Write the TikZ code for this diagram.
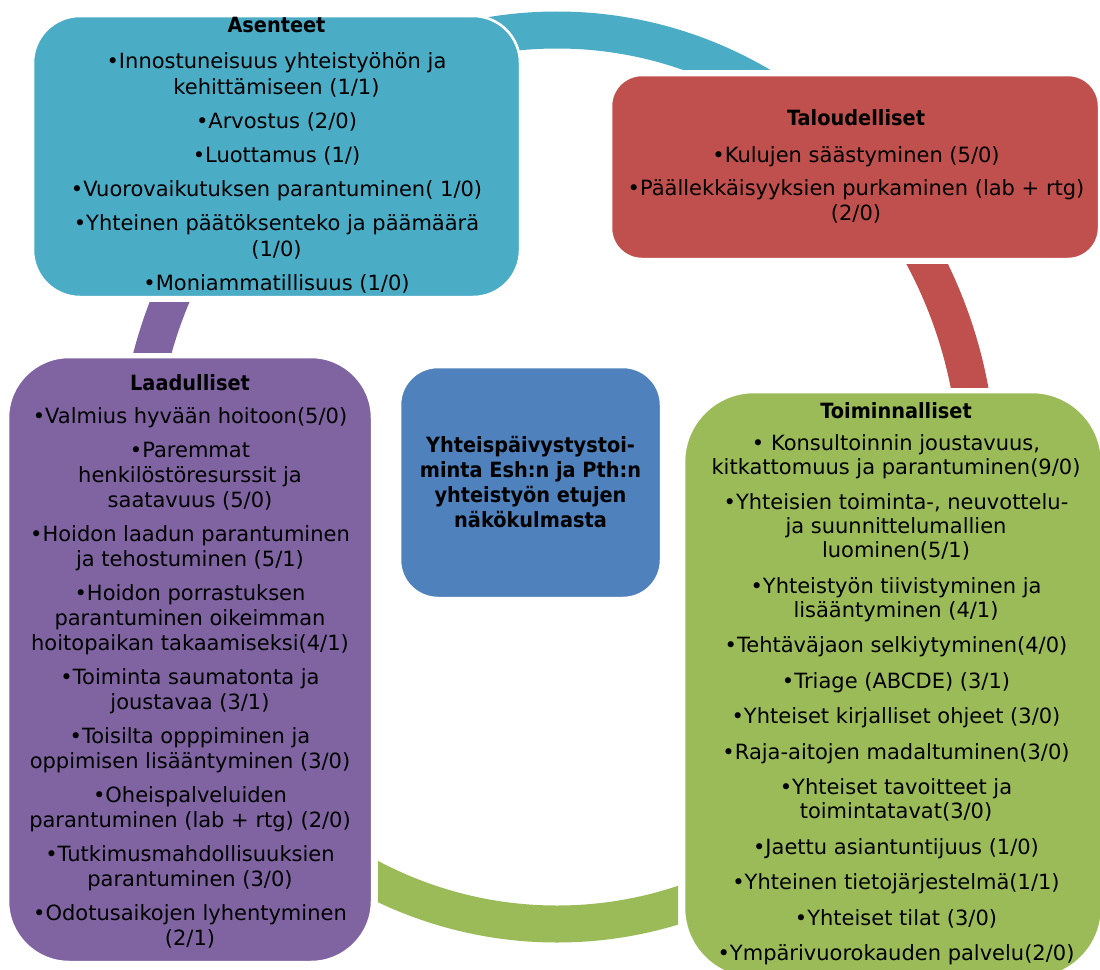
\documentclass[tikz,border=0pt]{standalone}
\usepackage{fontspec}
\setmainfont{DejaVu Sans}[BoldFeatures={FakeStretch=0.92}]
\definecolor{cteal}{HTML}{4BACC6}
\definecolor{cred}{HTML}{C0504D}
\definecolor{cgreen}{HTML}{9BBB59}
\definecolor{cpurple}{HTML}{8064A2}
\definecolor{cblue}{HTML}{4F81BD}
\begin{document}
\begin{tikzpicture}[x=1pt,y=-1pt,
  box/.style={draw=white,line width=2.5pt,rounded corners=#1,inner sep=0pt,outer sep=0pt},
  txt/.style={align=center,inner sep=0pt,text=black},
  arcline/.style={line width=37pt}]
\clip (0,0) rectangle (1100,969);
\fill[white] (0,0) rectangle (1100,969);
\coordinate (c) at (557,477);
% cycle arcs
\begin{scope}
  \clip (470,0) rectangle (1100,69);
  \draw[arcline,draw=cteal] (c) ellipse [x radius=421, y radius=447];
\end{scope}
\begin{scope}
  \clip (557,264) rectangle (1100,387);
  \draw[arcline,draw=cred] (c) ellipse [x radius=421, y radius=447];
\end{scope}
\begin{scope}
  \clip (378,477) rectangle (678,969);
  \draw[arcline,draw=cgreen] (c) ellipse [x radius=421, y radius=447];
\end{scope}
\begin{scope}
  \clip (0,302) rectangle (557,352);
  \draw[arcline,draw=cpurple] (c) ellipse [x radius=421, y radius=447];
\end{scope}
% boxes
\node[box=47pt,fill=cteal,minimum width=487pt,minimum height=281pt] (asenteet) at (276.5,156.5) {};
\node[box=31pt,fill=cred,minimum width=488pt,minimum height=184pt] (talous) at (855,167) {};
\node[box=70pt,fill=cgreen,minimum width=418pt,minimum height=586pt] (toiminta) at (893,685) {};
\node[box=61pt,fill=cpurple,minimum width=364pt,minimum height=605pt] (laatu) at (190,659.5) {};
\node[box=38pt,fill=cblue,minimum width=261pt,minimum height=231pt] (keskus) at (530.5,482.5) {};
% texts
\node[txt,font=\fontsize{21}{26}\selectfont] (asenteetT) at (276.5,155.5) {%
{\bfseries Asenteet}\\[10pt]
•Innostuneisuus yhteistyöhön ja\\
kehittämiseen (1/1)\\[8pt]
•Arvostus (2/0)\\[8pt]
•Luottamus (1/)\\[8pt]
•Vuorovaikutuksen parantuminen( 1/0)\\[8pt]
•Yhteinen päätöksenteko ja päämäärä\\
(1/0)\\[8pt]
•Moniammatillisuus (1/0)};
\node[txt,font=\fontsize{21}{25}\selectfont] (talousT) at (856,166) {%
{\bfseries Taloudelliset}\\[12pt]
•Kulujen säästyminen (5/0)\\[8pt]
•Päällekkäisyyksien purkaminen (lab + rtg)\\
(2/0)};
\node[txt,font=\fontsize{21}{25}\selectfont] (laatuT) at (190,661.5) {%
{\bfseries Laadulliset}\\[8pt]
•Valmius hyvään hoitoon(5/0)\\[9pt]
•Paremmat\\
henkilöstöresurssit ja\\
saatavuus (5/0)\\[9pt]
•Hoidon laadun parantuminen\\
ja tehostuminen (5/1)\\[9pt]
•Hoidon porrastuksen\\
parantuminen oikeimman\\
hoitopaikan takaamiseksi(4/1)\\[9pt]
•Toiminta saumatonta ja\\
joustavaa (3/1)\\[9pt]
•Toisilta opppiminen ja\\
oppimisen lisääntyminen (3/0)\\[9pt]
•Oheispalveluiden\\
parantuminen (lab + rtg) (2/0)\\[9pt]
•Tutkimusmahdollisuuksien\\
parantuminen (3/0)\\[9pt]
•Odotusaikojen lyhentyminen\\
(2/1)};
\node[txt,font=\fontsize{21}{24}\selectfont] (toimintaT) at (896,683.5) {%
{\bfseries Toiminnalliset}\\[8pt]
• Konsultoinnin joustavuus,\\
kitkattomuus ja parantuminen(9/0)\\[11.5pt]
•Yhteisien toiminta-, neuvottelu-\\
ja suunnittelumallien\\
luominen(5/1)\\[11.5pt]
•Yhteistyön tiivistyminen ja\\
lisääntyminen (4/1)\\[11.5pt]
•Tehtäväjaon selkiytyminen(4/0)\\[11.5pt]
•Triage (ABCDE) (3/1)\\[11.5pt]
•Yhteiset kirjalliset ohjeet (3/0)\\[11.5pt]
•Raja-aitojen madaltuminen(3/0)\\[11.5pt]
•Yhteiset tavoitteet ja\\
toimintatavat(3/0)\\[11.5pt]
•Jaettu asiantuntijuus (1/0)\\[11.5pt]
•Yhteinen tietojärjestelmä(1/1)\\[11.5pt]
•Yhteiset tilat (3/0)\\[11.5pt]
•Ympärivuorokauden palvelu(2/0)};
\node[txt,font=\fontsize{21}{25}\bfseries\selectfont] (keskusT) at (530.5,482.5) {%
Yhteispäivystystoi-\\
minta Esh:n ja Pth:n\\
yhteistyön etujen\\
näkökulmasta};
\end{tikzpicture}
\end{document}
